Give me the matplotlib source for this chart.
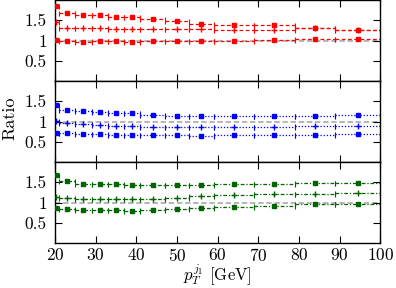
import numpy as np
import matplotlib
matplotlib.use('Agg')
import matplotlib.pyplot as plt

plt.rcParams['font.family'] = 'serif'
plt.rcParams['font.serif'] = ['cmr10']
plt.rcParams['mathtext.fontset'] = 'cm'
plt.rcParams['axes.formatter.use_mathtext'] = True

# bin edges / centres in pT
lo = np.array([19.5, 21, 25, 29, 33, 37, 41, 47, 53, 59, 69, 79, 89])
hi = np.array([21, 25, 29, 33, 37, 41, 47, 53, 59, 69, 79, 89, 100])
x = np.array([20.2, 23, 27, 31, 35, 39, 44, 50, 56, 64, 74, 84, 94.5])

red_a = [1.86, 1.67, 1.62, 1.62, 1.58, 1.57, 1.52, 1.47, 1.41, 1.38, 1.38, 1.30, 1.26]
red_b = [1.45, 1.32, 1.32, 1.30, 1.28, 1.28, 1.28, 1.28, 1.28, 1.27, 1.27, 1.30, 1.26]
red_c = [1.01, 0.99, 0.96, 0.98, 1.00, 0.96, 1.00, 0.98, 0.99, 1.00, 1.02, 1.04, 1.04]

blue_a = [1.41, 1.28, 1.25, 1.23, 1.21, 1.20, 1.15, 1.14, 1.14, 1.14, 1.14, 1.14, 1.15]
blue_b = [1.02, 0.97, 0.93, 0.91, 0.89, 0.89, 0.87, 0.87, 0.87, 0.87, 0.87, 0.89, 0.90]
blue_c = [0.72, 0.71, 0.68, 0.68, 0.67, 0.67, 0.66, 0.67, 0.65, 0.67, 0.67, 0.67, 0.68]

green_a = [1.68, 1.53, 1.45, 1.46, 1.45, 1.43, 1.43, 1.44, 1.43, 1.45, 1.46, 1.48, 1.49]
green_b = [1.13, 1.12, 1.09, 1.09, 1.09, 1.08, 1.08, 1.11, 1.17, 1.19, 1.20, 1.21, 1.24]
green_c = [0.86, 0.84, 0.81, 0.81, 0.81, 0.80, 0.82, 0.83, 0.86, 0.88, 0.91, 0.96, 0.97]

panels = [
    ('#ff0000', (0, (3, 2)), [red_a, red_b, red_c]),
    ('#0000ff', (0, (1, 1.5)), [blue_a, blue_b, blue_c]),
    ('#006400', (0, (3, 1.5, 1, 1.5)), [green_a, green_b, green_c]),
]

fig, axes = plt.subplots(3, 1, sharex=True, figsize=(3.96, 2.88), dpi=100)
fig.subplots_adjust(left=0.139, right=0.96, top=1.0, bottom=0.156, hspace=0)

xerr = [x - lo, hi - x]
for ax, (col, ls, series) in zip(axes, panels):
    ax.axhline(1.0, color='#b0b0b0', ls=(0, (3, 1.5)), lw=1.3, zorder=1)
    for vals, kind in zip(series, ['bx', 'plus', 'sq']):
        eb = ax.errorbar(x, vals, xerr=xerr, fmt='none', ecolor=col,
                         capsize=1.8, elinewidth=0.9, capthick=0.8, zorder=2)
        eb[2][0].set_linestyle(ls)
        if kind == 'bx':
            ax.plot(x, vals, ls='none', marker='s', ms=3.5, mfc='none', mec=col, mew=1.0, zorder=3)
            ax.plot(x, vals, ls='none', marker='x', ms=3.5, mec=col, mew=1.0, zorder=3)
        elif kind == 'plus':
            ax.plot(x, vals, ls='none', marker='+', ms=4, mec=col, mew=1.0, zorder=3)
        else:
            ax.plot(x, vals, ls='none', marker='s', ms=3.5, color=col, zorder=3)
    ax.set_ylim(0, 2)
    ax.set_yticks([0.5, 1, 1.5])
    ax.set_yticklabels(['0.5', '1', '1.5'])
    ax.tick_params(direction='in', top=True, right=True, length=5, width=0.8,
                   labelsize=12.5)
    ax.tick_params(axis='y', pad=6)
    ax.tick_params(axis='x', pad=3)
    for s in ax.spines.values():
        s.set_linewidth(1.0)

axes[-1].set_xlim(20, 100)
axes[-1].set_xticks(range(20, 101, 10))
fig.text(0.548, 0.0, r'$p_T^{j_1}$ [GeV]', ha='center', va='bottom', fontsize=12)
fig.text(0.025, 0.59, 'Ratio', rotation=90, va='center', ha='center', fontsize=13)

plt.savefig('out.png', dpi=100)
